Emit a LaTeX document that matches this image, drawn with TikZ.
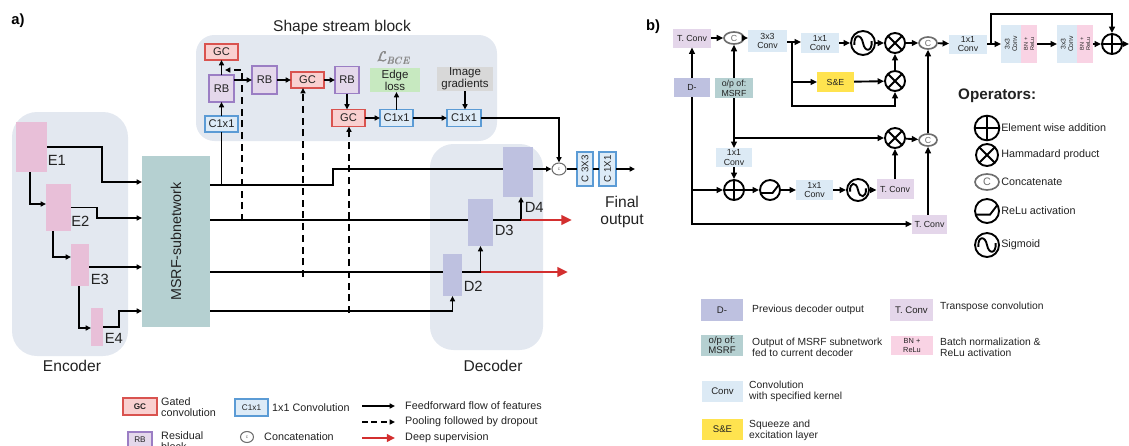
\documentclass[tikz,border=0pt]{standalone}
\usepackage{fontspec}
\setmainfont{Liberation Sans}
\usetikzlibrary{arrows.meta,shapes.geometric}

\definecolor{panel}{HTML}{E3E8F0}
\definecolor{msrfc}{HTML}{B5D0D1}
\definecolor{encc}{HTML}{E8BFD8}
\definecolor{decc}{HTML}{BEC1E0}
\definecolor{gcfill}{HTML}{F9D0D0}
\definecolor{gcdraw}{HTML}{D9534F}
\definecolor{rbfill}{HTML}{E4D8EB}
\definecolor{rbdraw}{HTML}{9B7EC4}
\definecolor{cvfill}{HTML}{DDEBF7}
\definecolor{cvdraw}{HTML}{5B9BD5}
\definecolor{edgec}{HTML}{C7E9C0}
\definecolor{gradc}{HTML}{D8D8D8}
\definecolor{tconvc}{HTML}{E4D6EA}
\definecolor{convc}{HTML}{DCEAF5}
\definecolor{sec}{HTML}{FFE34F}
\definecolor{bnc}{HTML}{F9D3E4}
\definecolor{redar}{HTML}{D32F2F}
\definecolor{txt}{HTML}{222222}
\definecolor{catgray}{HTML}{6E6E6E}
\definecolor{lossc}{HTML}{8A8A8A}

\newcommand\fbig{\fontsize{13.3}{14.5}\selectfont}
\newcommand\fmsrf{\fontsize{12.2}{13}\selectfont}
\newcommand\fmid{\fontsize{12.6}{14}\selectfont}
\newcommand\fblk{\fontsize{9.5}{10.5}\selectfont}
\newcommand\fedge{\fontsize{9.8}{10.4}\selectfont}
\newcommand\fleg{\fontsize{9.2}{9.8}\selectfont}
\newcommand\flegr{\fontsize{8.8}{9.3}\selectfont}
\newcommand\fsm{\fontsize{7.5}{8.4}\selectfont}
\newcommand\flsm{\fontsize{7}{8}\selectfont}
\newcommand\flbox{\fontsize{8.2}{8.6}\selectfont}
\newcommand\frot{\fontsize{5.8}{6.4}\selectfont}
\newcommand\fccc{\fontsize{8.3}{9}\selectfont}
\newcommand\fbn{\fontsize{4.8}{5.3}\selectfont}
\newcommand\fbnl{\fontsize{6.3}{7}\selectfont}
\newcommand\fops{\fontsize{13}{14}\selectfont}
\newcommand\flbce{\fontsize{11.5}{12}\selectfont}
\newcommand\ftiny{\fontsize{4}{4}\selectfont}
% heavy-looking loss symbol (overprinted twice)
\newcommand\lossglyph{$\mathcal{L}_{BCE}$}
\newcommand\lossname{\rlap{\lossglyph}\kern0.35pt\rlap{\lossglyph}\kern0.0pt\raise0.3pt\hbox{\lossglyph}}

\begin{document}
\begin{tikzpicture}[x=0.03cm, y=-0.03cm,
  sz/.style 2 args={minimum width=#1*0.03cm, minimum height=#2*0.03cm},
  blk/.style={inner sep=0pt, outer sep=0pt, align=center, text=txt},
  gcb/.style={blk, draw=gcdraw, fill=gcfill, line width=1.3pt, font=\fblk},
  rbb/.style={blk, draw=rbdraw, fill=rbfill, line width=1.3pt, font=\fblk},
  c1b/.style={blk, draw=cvdraw, fill=cvfill, line width=1.3pt, font=\fblk},
  encb/.style={blk, fill=encc},
  decb/.style={blk, fill=decc},
  lbl/.style={inner sep=0.5pt, font=\fmid, text=txt, anchor=west},
  ttl/.style={inner sep=0pt, font=\fbig, text=txt, align=center},
  legtxt/.style={inner sep=0pt, font=\fleg, text=txt, align=left, anchor=west},
  rlegtxt/.style={inner sep=0pt, font=\flegr, text=txt, align=left, anchor=west},
  ln/.style={line width=1.3pt, draw=black},
  arr/.style={ln, -{Triangle[length=4.5pt,width=4.2pt]}},
  darr/.style={line width=1.7pt, draw=black, dash pattern=on 6pt off 4pt, -{Triangle[length=4.5pt,width=4.2pt]}},
  deepsup/.style={line width=2.4pt, draw=redar, -{Triangle[length=9pt,width=8pt]}},
  catnode/.style={ellipse, draw=catgray, fill=white, line width=0.9pt, inner sep=0pt, font=\ftiny, text=catgray},
  rln/.style={line width=1.6pt, draw=black},
  rarr/.style={rln, -{Triangle[length=5.5pt,width=5pt]}},
  rbox/.style={blk, font=\fsm},
  tcv/.style={rbox, fill=tconvc},
  cv/.style={rbox, fill=convc},
  bnb/.style={rbox, fill=bnc, font=\fbn},
  rcat/.style={ellipse, draw=catgray, fill=white, line width=1.4pt, inner sep=0pt, font=\fsm, text=catgray},
  opc/.style={circle, draw=black, line width=1.6pt, fill=white, inner sep=0pt, minimum size=2*#1},
  addop/.style={opc=#1, path picture={\draw[line width=1.6pt] (path picture bounding box.north) -- (path picture bounding box.south) (path picture bounding box.west) -- (path picture bounding box.east);}},
  mulop/.style={opc=#1, path picture={\draw[line width=1.6pt] (path picture bounding box.north west) -- (path picture bounding box.south east) (path picture bounding box.north east) -- (path picture bounding box.south west);}},
  sigop/.style={opc=#1, path picture={\draw[line width=1.6pt, shift={(path picture bounding box.center)}, x=#1, y=#1] (-0.72,-0.15) .. controls (-0.78,0.75) and (-0.15,0.8) .. (0,0) .. controls (0.15,-0.8) and (0.78,-0.75) .. (0.72,0.15);}},
  reluop/.style={opc=#1, path picture={\draw[line width=1.6pt, shift={(path picture bounding box.center)}, x=#1, y=#1] (-1.1,-0.3) -- (0.25,-0.3) -- (0.9,0.55);}},
]
\useasboundingbox (0,0) rectangle (1129,445);

%% ---------------- part a) ----------------
\node[font=\bfseries\fmid, inner sep=0pt] (tagA) at (18,21) {a)};

% background panels
\fill[panel, rounded corners=0.55cm] (196,35) rectangle (497,141);
\fill[panel, rounded corners=0.75cm] (12,112) rectangle (128,356);
\fill[panel, rounded corners=0.7cm] (430,144) rectangle (543,350);

\node[ttl] (ssTitle) at (342,27) {Shape stream block};
\node[ttl] (encTitle) at (72,366) {Encoder};
\node[ttl] (decTitle) at (493,366) {Decoder};

% shape stream blocks
\node[gcb, sz={33}{16}] (gc1) at (221.5,52) {GC};
\node[rbb, sz={25}{27}] (rb1) at (221.5,88.5) {RB};
\node[c1b, sz={33}{16}] (c1) at (221.5,124) {C1x1};
\node[rbb, sz={25}{28}] (rb2) at (264.5,80) {RB};
\node[gcb, sz={33}{16}] (gc2) at (307.5,80) {GC};
\node[rbb, sz={24}{27}] (rb3) at (347,80) {RB};
\node[gcb, sz={33}{17}] (gc3) at (348.5,118) {GC};
\node[c1b, sz={33}{17}] (c2) at (396.5,118) {C1x1};
\node[c1b, sz={34}{17}] (c3) at (464,118) {C1x1};
\node[blk, fill=edgec, sz={50}{24}, font=\fedge] (edge) at (395,80) {Edge\\loss};
\node[blk, fill=gradc, sz={56}{24}, font=\fedge] (grad) at (465,79) {Image\\gradients};
\node[text=lossc, font=\flbce, inner sep=0pt] (lbce) at (394,58) {\lossname};

\draw[arr] (c1) -- (rb1);
\draw[arr] (rb1) -- (gc1);
\draw[arr] (rb1.east |- rb2.west) -- (rb2.west);
\draw[arr] (rb2) -- (gc2);
\draw[arr] (gc2) -- (rb3);
\draw[arr] (rb3.south) -- (rb3.south |- gc3.north);
\draw[arr] (gc3) -- (c2);
\draw[arr] (c2.north) -- (c2.north |- edge.south);
\draw[arr] (c2) -- (c3);
\draw[arr] (grad.south) -- (grad.south |- c3.north);

% encoder
\node[encb, sz={31}{50}] (e1) at (31.5,147) {};
\node[encb, sz={25}{47}] (e2) at (58.5,207.5) {};
\node[encb, sz={18}{42}] (e3) at (80,265) {};
\node[encb, sz={12}{38}] (e4) at (97,327) {};
\node[lbl] (e1l) at (47,160) {E1};
\node[lbl] (e2l) at (70.5,221) {E2};
\node[lbl] (e3l) at (90,279) {E3};
\node[lbl] (e4l) at (104,338) {E4};

% MSRF subnetwork
\node[blk, fill=msrfc, rotate=90, sz={171}{68}, font=\fmsrf] (msrf) at (176,241.5) {MSRF-subnetwork};
\coordinate (m1) at (142,182);
\coordinate (m2) at (142,218);
\coordinate (m3) at (142,267);
\coordinate (m4) at (142,311);
\coordinate (o1) at (210,185);
\coordinate (o2) at (210,220);
\coordinate (o3) at (210,272);
\coordinate (o4) at (210,311);

\draw[arr] (e1.east) -| (102,182) -- (m1);
\draw[arr] (e1.south -| 30,0) |- (e2.west |- 0,204);
\draw[arr] (e2.east) -| (97,218) -- (m2);
\draw[arr] (e2.south -| 53,0) |- (e3.west |- 0,257);
\draw[arr] (e3.east |- m3) -- (m3);
\draw[arr] (e3.south -| 79,0) |- (e4.west |- 0,328);
\draw[arr] (e4.east) -| (119,311) -- (m4);

% decoder
\node[decb, sz={30}{50}] (d4) at (518,172) {};
\node[decb, sz={25}{47}] (d3) at (480.5,222.5) {};
\node[decb, sz={19}{42}] (d2) at (452.5,275) {};
\node[lbl] (d4l) at (524,207) {D4};
\node[lbl] (d3l) at (494,230) {D3};
\node[lbl] (d2l) at (463,286) {D2};

% output head
\node[catnode, sz={14}{12}] (cat) at (559,169) {c};
\node[c1b, rotate=90, sz={34}{16}, font=\fccc] (cc3) at (585,169) {C 3X3};
\node[c1b, rotate=90, sz={34}{17}, font=\fccc] (cc1) at (607.5,169) {C 1X1};
\coordinate (fo) at (635,169);
\node[ttl] (finalTxt) at (622,212) {Final\\output};

% feature flows from the MSRF subnetwork
\draw[ln] (o1) -| (333,169) -- (d4.west |- 0,169);
\draw[ln] (c1.south |- o1) -- (c1.south);
\draw[ln] (o2) -- (d3.west |- o2);
\draw[ln] (o3) -- (d2.west |- o3);
\draw[arr] (o4) -| (d2.south);
\draw[arr] (d2.east |- o3) -| (d3.south);
\coordinate (j4) at (521,220);
\draw[arr] (d3.east |- o2) -| (d4.south -| j4);
\coordinate (ds1) at (568,272);
\coordinate (ds2) at (572,220);
\draw[deepsup] (d3.south |- o3) -- (ds1);
\draw[deepsup] (j4) -- (ds2);

\draw[arr] (d4.east |- cat) -- (cat);
\draw[arr] (c3.east) -| (cat.north);
\draw[ln] (cat) -- (cc3);
\draw[ln] (cc3) -- (cc1);
\draw[arr] (cc1) -- (fo);

% pooling + dropout paths
\coordinate (p1) at (242,221);
\coordinate (pd1) at (225,70);
\coordinate (p2) at (303,277);
\coordinate (p3) at (349,313);
\draw[darr] (p1) |- (pd1);
\draw[darr] (p2) -- (p2 |- gc2.south);
\draw[darr] (p3) -- (p3 |- gc3.south);

% legend of part a)
\node[gcb, sz={34}{17}, font=\bfseries\flsm] (lgc) at (140,406.5) {GC};
\node[legtxt] (lgct) at (161,407) {Gated\\convolution};
\node[rbb, minimum width=24*0.03cm, text height=0.3cm, text depth=0.48cm, font=\flsm, anchor=north] (lrb) at (140,432) {RB};
\node[legtxt, anchor=north west] (lrbt) at (161,431) {Residual\\block};
\node[c1b, sz={33}{17}, font=\flsm] (lc1) at (251.5,407.5) {C1x1};
\node[legtxt] (lc1t) at (272,408) {1x1 Convolution};
\node[catnode, sz={13}{11}] (lcat) at (247,437) {c};
\node[legtxt] (lcatt) at (264,437) {Concatenation};
\coordinate (la1) at (362,406); \coordinate (lb1) at (395,406);
\coordinate (la2) at (362,422); \coordinate (lb2) at (395,422);
\coordinate (la3) at (362,438); \coordinate (lb3) at (395,438);
\draw[arr] (la1) -- (lb1);
\draw[darr, dash pattern=on 5pt off 3pt] (la2) -- (lb2);
\draw[deepsup, line width=2pt, -{Triangle[length=7pt,width=6.5pt]}] (la3) -- (lb3);
\node[legtxt] (lt1) at (405,406) {Feedforward flow of features};
\node[legtxt] (lt2) at (405,422) {Pooling followed by dropout};
\node[legtxt] (lt3) at (405,438) {Deep supervision};

%% ---------------- part b) ----------------
\node[font=\bfseries\fmid, inner sep=0pt] (tagB) at (653,27) {b)};

\node[tcv, sz={38}{19}] (tc1) at (692,38) {T. Conv};
\node[rcat, sz={20}{12}] (ca) at (734,38) {C};
\node[cv, sz={39}{22}] (cv3) at (767.5,41) {3x3\\Conv};
\coordinate (br) at (792,42);
\node[cv, sz={38}{20}] (cv1a) at (820,43) {1x1\\Conv};
\node[sigop=0.36cm] (sga) at (863,43) {};
\node[mulop=0.3cm] (mla) at (895,43) {};
\node[cv, fill=sec, sz={37}{20}] (se) at (835.5,82) {S\&E};
\node[mulop=0.3cm] (mlb) at (895,81) {};
\node[rcat, sz={18}{12}] (cb) at (928,43) {C};
\node[cv, sz={38}{19}] (cv1b) at (968,44) {1x1\\Conv};
\node[cv, rotate=90, sz={38}{20}, font=\frot] (pc1) at (1011,44) {3x3\\Conv};
\node[bnb, rotate=90, sz={38}{16}] (pb1) at (1029,44) {BN +\\ReLu};
\node[cv, rotate=90, sz={38}{20}, font=\frot] (pc2) at (1067,44) {3x3\\Conv};
\node[bnb, rotate=90, sz={38}{16}] (pb2) at (1085,44) {BN +\\ReLu};
\node[addop=0.3cm] (ada) at (1112,44) {};
\coordinate (outr) at (1129,44);
\coordinate (sk) at (991,44);
\coordinate (bb) at (792,106);

\node[blk, fill=decc, sz={36}{19}, font=\fsm] (dm) at (692,87.5) {D-};
\node[blk, fill=msrfc, sz={38}{20}, font=\fsm] (mo) at (734,88) {o/p of:\\MSRF};
\node[cv, sz={36}{19}] (cv1c) at (734,157.5) {1x1\\Conv};
\node[addop=0.3cm] (adb) at (734,190) {};
\node[reluop=0.3cm] (rl) at (770,190) {};
\node[cv, sz={37}{20}] (cv1d) at (814.5,190) {1x1\\Conv};
\node[sigop=0.33cm] (sgb) at (858,190) {};
\node[tcv, sz={37}{20}] (tc2) at (895,189) {T. Conv};
\node[mulop=0.3cm] (mlc) at (895,138) {};
\node[rcat, sz={18}{12}] (cc) at (928,140) {C};
\node[tcv, sz={35}{19}] (tc3) at (929.5,224) {T. Conv};

\draw[rarr] (tc1) -- (ca);
\draw[rarr] (ca) -- (cv3.west |- ca);
\draw[rln] (cv3.east |- br) -- (br);
\draw[rarr] (br) -- (cv1a.west |- br);
\draw[rarr] (cv1a) -- (sga);
\draw[rarr] (sga) -- (mla);
\draw[rarr] (br |- se) -- (se);
\draw[rarr] (se) -- (mlb);
\draw[rarr] (br) -- (bb) -| (mlb.south);
\draw[rarr] (mlb) -- (mla);
\draw[rarr] (mla) -- (cb);
\draw[rarr] (cb) -- (cv1b);
\draw[rarr] (cv1b) -- (pc1);
\draw[rarr] (pb1) -- (pc2);
\draw[rarr] (pb2) -- (ada);
\draw[rarr] (ada) -- (outr);
\draw[rarr] (sk) |- (ada.north |- 0,14) -- (ada.north);

\draw[rarr] (dm) -- (tc1);
\draw[rarr] (mo) -- (ca);
\draw[rarr] (mo) -- (cv1c);
\draw[rarr] (mo.south |- mlc) -- (mlc);
\draw[rarr] (cv1c) -- (adb);
\draw[rarr] (dm.south) |- (tc3.west);
\draw[rarr] (dm.south |- adb) -- (adb);
\draw[rarr] (adb) -- (rl);
\draw[rarr] (rl) -- (cv1d);
\draw[rarr] (cv1d) -- (sgb);
\draw[rarr] (sgb) -- (tc2.west |- sgb);
\draw[rarr] (tc2) -- (mlc);
\draw[rarr] (mlc) -- (cc);
\draw[rarr] (tc3.north -| cc) -- (cc);
\draw[rarr] (cc) -- (cb);

% operators
\node[font=\bfseries\fops, text=txt, inner sep=0pt, anchor=west] (opsT) at (958,96) {Operators:};
\node[addop=0.37cm] (oa) at (987,128) {};
\node[mulop=0.33cm] (om) at (987,155) {};
\node[rcat, sz={24}{16}, font=\fleg] (oc) at (987,182) {C};
\node[reluop=0.36cm] (orl) at (987,211) {};
\node[sigop=0.36cm] (osg) at (987,245) {};
\node[legtxt] (oat) at (1001,128) {Element wise addition};
\node[legtxt] (omt) at (1001,155) {Hammadard product};
\node[legtxt] (oct) at (1001,182) {Concatenate};
\node[legtxt] (orlt) at (1001,211) {ReLu activation};
\node[legtxt] (osgt) at (1001,245) {Sigmoid};

% legend of part b)
\node[blk, fill=decc, sz={42}{22}, font=\flbox] (lgD) at (722,310) {D-};
\node[rlegtxt] (lgDt) at (752,310) {Previous decoder output};
\node[blk, fill=tconvc, sz={43}{22}, font=\flbox] (lgT) at (911.5,310) {T. Conv};
\node[rlegtxt] (lgTt) at (940,307) {Transpose convolution};
\node[blk, fill=msrfc, sz={42}{21}, font=\flbox] (lgM) at (722,345.5) {o/p of:\\MSRF};
\node[rlegtxt] (lgMt) at (752,347) {Output of MSRF subnetwork\\fed to current decoder};
\node[blk, fill=bnc, sz={42}{19}, font=\fbnl] (lgB) at (912,345.5) {BN +\\ReLu};
\node[rlegtxt] (lgBt) at (940,347) {Batch normalization \&\\ReLu activation};
\node[blk, fill=convc, sz={41}{21}, font=\flbox] (lgC) at (722.5,391.5) {Conv};
\node[rlegtxt] (lgCt) at (749,391) {Convolution\\with specified kernel};
\node[blk, fill=sec, sz={41}{21}, font=\flbox] (lgS) at (722.5,429.5) {S\&E};
\node[rlegtxt] (lgSt) at (749,430) {Squeeze and\\excitation layer};
\end{tikzpicture}
\end{document}
